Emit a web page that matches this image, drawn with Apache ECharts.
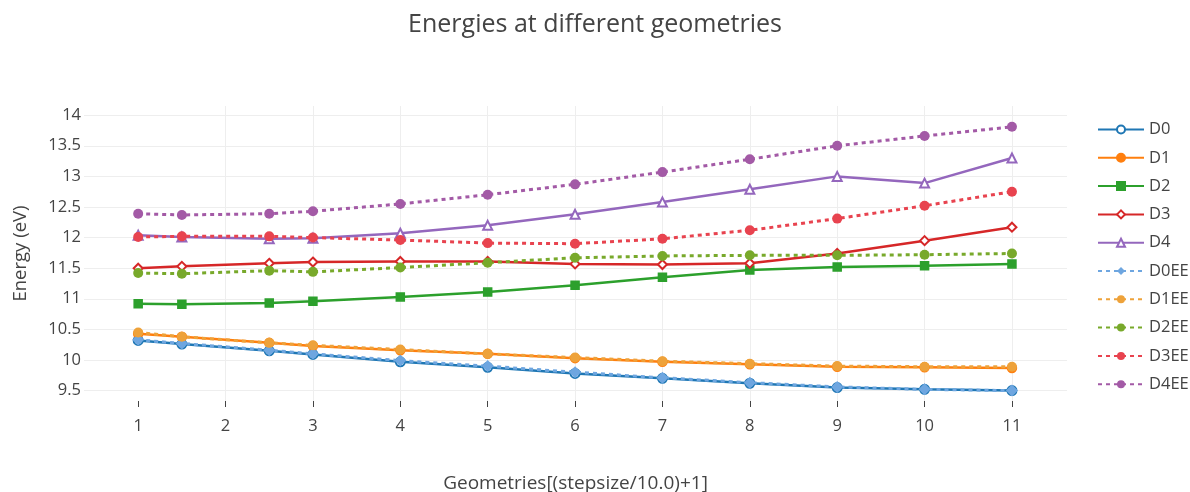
<!DOCTYPE html>
<html>
<head>
<meta charset="utf-8">
<script src="https://cdn.jsdelivr.net/npm/echarts@6/dist/echarts.min.js"></script>
<style>
  html, body { margin: 0; padding: 0; background: #fff; }
  #chart { width: 1190px; height: 492px; }
</style>
</head>
<body>
<div id="chart"></div>
<script>
const geometries = [1, 1.5, 2.5, 3, 4, 5, 6, 7, 8, 9, 10, 11]
const xTicks = [1, 2, 3, 4, 5, 6, 7, 8, 9, 10, 11]

const d0 = [10.32, 10.26, 10.15, 10.09, 9.97, 9.88, 9.78, 9.70, 9.62, 9.55, 9.52, 9.50]
const d1 = [10.43, 10.38, 10.28, 10.23, 10.16, 10.10, 10.03, 9.97, 9.93, 9.89, 9.88, 9.87]
const d2 = [10.92, 10.91, 10.93, 10.96, 11.03, 11.11, 11.22, 11.35, 11.47, 11.52, 11.54, 11.57]
const d3 = [11.50, 11.53, 11.58, 11.60, 11.61, 11.61, 11.57, 11.56, 11.58, 11.74, 11.95, 12.17]
const d4 = [12.04, 12.01, 11.98, 11.99, 12.07, 12.20, 12.38, 12.58, 12.79, 13.00, 12.89, 13.30]
const d0ee = [10.33, 10.27, 10.16, 10.10, 9.99, 9.90, 9.80, 9.71, 9.63, 9.56, 9.52, 9.50]
const d1ee = [10.45, 10.38, 10.28, 10.24, 10.17, 10.10, 10.04, 9.98, 9.94, 9.90, 9.89, 9.89]
const d2ee = [11.42, 11.41, 11.46, 11.44, 11.51, 11.59, 11.67, 11.70, 11.71, 11.71, 11.72, 11.74]
const d3ee = [12.01, 12.02, 12.02, 12.00, 11.96, 11.91, 11.90, 11.98, 12.12, 12.31, 12.52, 12.75]
const d4ee = [12.39, 12.37, 12.39, 12.43, 12.55, 12.70, 12.87, 13.07, 13.28, 13.50, 13.66, 13.81]

const pairs = ys => geometries.map((x, i) => [x, ys[i]])

const solid = (name, ys, color, symbol) => ({
	name,
	type: 'line',
	data: pairs(ys),
	symbol,
	symbolSize: symbol === 'rect' ? 8 : 9,
	color,
	lineStyle: { width: 2.5, color },
	itemStyle: { color, borderColor: color, borderWidth: 1.5 }
})

const dotted = (name, ys, color, symbol) => ({
	name,
	type: 'line',
	data: pairs(ys),
	symbol,
	symbolSize: symbol === 'diamond' ? 12 : 10,
	color,
	lineStyle: { width: 3, color, type: [4, 4] },
	itemStyle: { color }
})

const gridColor = '#eeeeee'
const xLineColors = ['transparent'].concat(xTicks.map(() => gridColor), ['transparent'])
const yLineColors = ['transparent', gridColor, gridColor, gridColor, gridColor, gridColor,
	gridColor, gridColor, gridColor, gridColor, gridColor, 'transparent']

const font = '"Open Sans", sans-serif'

const node = document.getElementById('chart')
const myChart = echarts.init(node)

const option = {
	animation: false,
	title: {
		text: 'Energies at different geometries',
		left: 'center',
		top: 7,
		textStyle: { fontFamily: font, fontWeight: 400, fontSize: 25, color: '#444' }
	},
	legend: {
		orient: 'vertical',
		left: 1092,
		top: 116,
		itemWidth: 46,
		itemHeight: 10,
		itemGap: 11.3,
		textStyle: { fontFamily: font, fontSize: 16.5, color: '#444' }
	},
	grid: { left: 84, right: 123, top: 106, bottom: 91, outerBoundsMode: 'none' },
	xAxis: {
		type: 'value',
		min: 0.38,
		max: 11.63,
		splitNumber: 11,
		name: 'Geometries[(stepsize/10.0)+1]',
		nameLocation: 'middle',
		nameGap: 73,
		nameTextStyle: { fontFamily: font, fontSize: 19, color: '#444' },
		axisLine: { show: false },
		axisTick: { show: true, customValues: xTicks, length: 6, lineStyle: { color: '#444' } },
		axisLabel: { customValues: xTicks, fontFamily: font, fontSize: 16.5, color: '#444', margin: 17 },
		splitLine: { show: true, lineStyle: { color: xLineColors, width: 1 } }
	},
	yAxis: {
		type: 'value',
		min: 9.33,
		max: 14.15,
		splitNumber: 10,
		name: 'Energy (eV)',
		nameLocation: 'middle',
		nameGap: 54,
		nameTextStyle: { fontFamily: font, fontSize: 18.5, color: '#444' },
		axisLine: { show: false },
		axisTick: { show: false },
		axisLabel: {
			showMinLabel: false,
			showMaxLabel: false,
			fontFamily: font,
			fontSize: 16.5,
			color: '#444',
			margin: 3
		},
		splitLine: { show: true, lineStyle: { color: yLineColors, width: 1 } }
	},
	series: [
		solid('D0', d0, '#1f77b4', 'emptyCircle'),
		solid('D1', d1, '#ff7f0e', 'circle'),
		solid('D2', d2, '#2ca02c', 'rect'),
		solid('D3', d3, '#d62728', 'emptyDiamond'),
		solid('D4', d4, '#9467bd', 'emptyTriangle'),
		dotted('D0EE', d0ee, '#6ea6e0', 'diamond'),
		dotted('D1EE', d1ee, '#eea23a', 'circle'),
		dotted('D2EE', d2ee, '#78a92b', 'circle'),
		dotted('D3EE', d3ee, '#e8434f', 'circle'),
		dotted('D4EE', d4ee, '#a35aa6', 'circle')
	]
}

myChart.setOption(option)

window.addEventListener('resize', () => {
	myChart.resize()
})
</script>
</body>
</html>
